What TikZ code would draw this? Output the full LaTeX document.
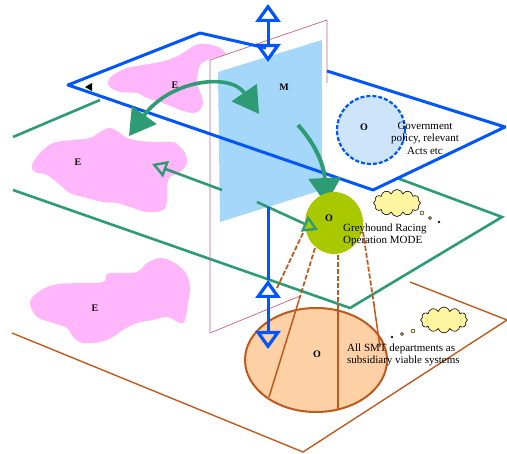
\documentclass[tikz,border=0pt]{standalone}
\usepackage{fontspec}
\setmainfont{Liberation Serif}
\usetikzlibrary{arrows.meta,shapes.symbols,shapes.geometric}

\definecolor{planeblue}{RGB}{0,85,255}
\definecolor{planegreen}{RGB}{45,155,115}
\definecolor{planebrown}{RGB}{190,90,30}
\definecolor{framered}{RGB}{190,100,125}
\definecolor{panelblue}{RGB}{165,215,250}
\definecolor{blobpink}{RGB}{255,182,250}
\definecolor{modegreen}{RGB}{170,200,0}
\definecolor{smtorange}{RGB}{253,208,165}
\definecolor{govblue}{RGB}{205,228,250}
\definecolor{cloudyellow}{RGB}{255,245,160}

\tikzset{
    blueedge/.style={line width=3pt, draw=planeblue, line join=round},
    greenedge/.style={line width=2.6pt, draw=planegreen},
    brownedge/.style={line width=1.4pt, draw=planebrown},
    frameedge/.style={line width=0.7pt, draw=framered},
    blob/.style={fill=blobpink},
    lbl/.style={font=\fontsize{10}{12}\selectfont\bfseries, inner sep=0pt},
    txt/.style={font=\fontsize{11}{12.5}\selectfont, inner sep=0pt},
    thought/.style={cloud, cloud puffs=12, aspect=1.8, draw=black, line width=0.6pt,
        fill=cloudyellow, inner sep=0pt},
    bubble/.style={circle, draw=black, line width=0.4pt, fill=cloudyellow, inner sep=0pt},
    conedash/.style={line width=1.8pt, draw=planebrown, dash pattern=on 5pt off 2pt},
    coneline/.style={line width=1.5pt, draw=planebrown},
    bluetip/.tip={Triangle[open, length=18pt, width=25pt, line width=3.2pt]},
    greentip/.tip={Triangle[length=26pt, width=30pt]},
    bigtip/.tip={Triangle[length=26pt, width=32pt]},
    thintip/.tip={Triangle[open, length=15pt, width=17pt, line width=2.4pt]}
}

\begin{document}
\begin{tikzpicture}[x=1pt, y=-1pt]

    \useasboundingbox (0,0) rectangle (507,454);

    %----- BOTTOM PLANE (SMT) -----
    \coordinate (bl) at (12,333);
    \coordinate (bb) at (303,452);
    \coordinate (br) at (507,320);
    \coordinate (bt) at (410,282);
    \draw[brownedge] (bl) -- (bb) -- (br) -- (bt);

    \fill[blob] plot[smooth cycle, tension=0.6] coordinates {
        (30,303) (37,293) (53,285) (77,283) (103,282) (107,274) (120,273)
        (137,272) (147,263) (160,258) (173,262) (185,272) (190,287) (188,303)
        (185,320) (180,323) (167,317) (153,320) (137,323) (123,330) (113,337)
        (100,342) (83,343) (73,337) (67,328) (53,323) (37,317)};
    \node[lbl] (e3) at (95,308) {E};

    %----- MIDDLE PLANE (MODE) -----
    \coordinate (gl1) at (13,137);
    \coordinate (gl2) at (13,190);
    \coordinate (gt1) at (100,100);
    \coordinate (gt2) at (397,178);
    \coordinate (gr) at (502,217);
    \coordinate (gb) at (350,308);
    \draw[greenedge] (gl1) -- (gt1);
    \draw[greenedge] (gt2) -- (gr) -- (gb) -- (gl2);

    \fill[blob] plot[smooth cycle, tension=0.6] coordinates {
        (32,165) (40,153) (53,143) (73,140) (90,138) (100,132) (110,128)
        (120,133) (127,138) (140,141) (157,142) (173,142) (180,147) (185,153)
        (187,163) (180,172) (170,177) (167,187) (167,200) (163,210) (147,212)
        (130,207) (117,203) (103,202) (87,198) (70,193) (60,185) (47,175) (35,172)};
    \node[lbl] (e2) at (78,162) {E};

    %----- TOP PLANE (GOVERNMENT) -----
    \fill[blob] plot[smooth cycle, tension=0.6] coordinates {
        (108,82) (113,75) (127,68) (143,65) (160,62) (173,58) (183,53) (192,47)
        (200,44) (213,45) (223,50) (225,55) (217,57) (207,60) (200,65) (198,73)
        (197,82) (200,92) (203,102) (200,110) (193,113) (180,110) (173,107)
        (160,102) (147,98) (137,93) (120,92) (110,87)};
    \node[lbl] (e1) at (175,85) {E};

    %----- VERTICAL FRAME AND M PANEL -----
    \draw[frameedge] (210,333) -- (210,60) -- (327,20) -- (327,83);
    \draw[frameedge] (210,333) -- (300,296);
    \fill[panelblue] (218,72) -- (322,40) -- (322,190) -- (220,222) -- cycle;
    \node[lbl] (m) at (284,87) {M};

    %----- TOP PLANE EDGES -----
    \coordinate (tl) at (68,85);
    \coordinate (tt) at (200,33);
    \coordinate (tr) at (505,127);
    \coordinate (tb) at (373,190);
    \draw[blueedge] (266,48) -- (tt) -- (tl) -- (tb) -- (tr) -- (327,71);
    \fill (85,87) -- (92,83) -- (92,91) -- cycle;

    \node[circle, minimum size=68pt, fill=govblue, draw=planeblue, line width=2.2pt,
        dash pattern=on 4pt off 2pt] (gov) at (371,130) {};
    \node[lbl] (ogov) at (364,127) {O};
    \node[txt, align=center] (govtext) at (425,138) {Government\\policy, relevant\\Acts etc};

    %----- ARROWS BETWEEN PLANES -----
    \coordinate (ea) at (129,136);
    \coordinate (ma) at (259,114);
    \draw[greenedge, line width=3.6pt, {greentip}-{greentip}]
        (ea) .. controls (170,80) and (230,72) .. (ma);

    \coordinate (ms) at (298,125);
    \coordinate (mo) at (326,204);
    \draw[greenedge, line width=4pt, -{bigtip}]
        (ms) .. controls (316,145) and (324,165) .. (mo);

    \coordinate (mw) at (222,190);
    \coordinate (ew) at (152,164);
    \draw[greenedge, -{thintip}] (mw) -- (ew);

    \coordinate (me) at (257,202);
    \coordinate (oe) at (318,230);

    %----- CONE DOWN TO SMT -----
    \node[ellipse, minimum width=142pt, minimum height=104pt, fill=smtorange,
        draw=planebrown, line width=2pt] (smt) at (316,360) {};
    \draw[conedash] (303,233) -- (277,288);
    \draw[conedash] (315,248) -- (299,300);
    \draw[coneline] (299,300) -- (269,397);
    \draw[conedash] (338,255) -- (338,305);
    \draw[coneline] (338,305) -- (338,410);
    \draw[conedash] (363,232) -- (374,305);
    \draw[coneline] (374,305) -- (380,347);
    \node[lbl] (osmt) at (317,354) {O};

    \node[ellipse, minimum width=58pt, minimum height=62pt, fill=modegreen] (mode) at (334,223) {};
    \node[lbl] (omode) at (329,218) {O};
    \draw[greenedge, -{thintip}] (me) -- (oe);

    %----- UP AND DOWN ARROWS -----
    \coordinate (up1) at (268,4);
    \coordinate (dn1) at (268,62);
    \draw[blueedge, {bluetip}-{bluetip}] (up1) -- (dn1);

    \coordinate (st2) at (268,207);
    \coordinate (up2) at (268,280);
    \coordinate (dn2) at (268,349);
    \draw[blueedge] (st2) -- (up2);
    \draw[blueedge, {bluetip}-{bluetip}] (up2) -- (dn2);

    %----- THOUGHT CLOUDS AND TEXTS -----
    \node[thought, minimum width=47pt, minimum height=27pt] (cloud1) at (397,203) {};
    \node[bubble, minimum size=4pt] (b11) at (422,213) {};
    \node[bubble, minimum size=3pt] (b12) at (430,218) {};
    \node[bubble, minimum size=2pt] (b13) at (439,222) {};
    \node[txt, align=left, anchor=base west] (modetext) at (343,244)
        {Greyhound Racing\\Operation MODE};

    \node[thought, minimum width=47pt, minimum height=26pt] (cloud2) at (444,320) {};
    \node[bubble, minimum size=4pt] (b21) at (413,331) {};
    \node[bubble, minimum size=3pt] (b22) at (402,334) {};
    \node[bubble, minimum size=2pt] (b23) at (392,337) {};
    \node[txt, align=left, anchor=base west] (smttext) at (347,364)
        {All SMT departments as\\subsidiary viable systems};

\end{tikzpicture}
\end{document}
